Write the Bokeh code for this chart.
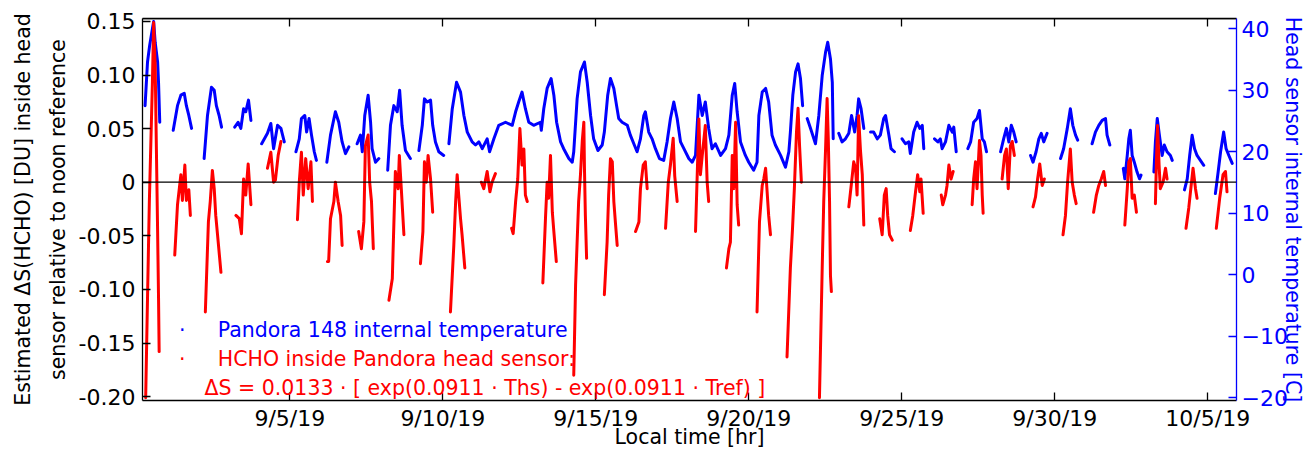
import numpy as np
from bokeh.plotting import figure
from bokeh.models import Range1d, LinearAxis, FixedTicker, Span, Label
from bokeh.embed import file_html
from bokeh.resources import INLINE

# ---------------- data (time = days since 31 Aug 2019 00:00, i.e. day-of-September) -------------
x_tick_days = [5, 10, 15, 20, 25, 30, 35]
x_tick_labels = ["9/5/19", "9/10/19", "9/15/19", "9/20/19", "9/25/19", "9/30/19", "10/5/19"]
left_ticks = [-0.2, -0.15, -0.1, -0.05, 0.0, 0.05, 0.1, 0.15]
left_tick_labels = ["-0.20", "-0.15", "-0.10", "-0.05", "0", "0.05", "0.10", "0.15"]
right_ticks = [-20, -10, 0, 10, 20, 30, 40]

# Pandora 148 internal temperature [C], one list per continuous record
temp_time = [
    [0.27, 0.35, 0.42, 0.51, 0.55, 0.60, 0.68, 0.71, 0.75],
    [1.19, 1.33, 1.44, 1.55, 1.62, 1.70, 1.79],
    [2.20, 2.31, 2.44, 2.53, 2.60, 2.69, 2.77],
    [3.20, 3.31, 3.40, 3.49, 3.56, 3.65, 3.73],
    [4.08, 4.27, 4.38, 4.47, 4.60, 4.71, 4.82],
    [5.20, 5.31, 5.38, 5.49, 5.55, 5.63, 5.71, 5.80, 5.87],
    [6.21, 6.33, 6.49, 6.60, 6.71, 6.82, 6.93],
    [7.20, 7.31, 7.37, 7.45, 7.56, 7.64, 7.69, 7.80, 7.91],
    [8.20, 8.29, 8.40, 8.51, 8.59, 8.67, 8.78, 8.94],
    [9.22, 9.33, 9.40, 9.49, 9.60, 9.67, 9.76, 9.87, 10.03],
    [10.20, 10.31, 10.45, 10.58, 10.69, 10.80, 10.96, 11.07, 11.18, 11.29, 11.45, 11.53,
     11.67, 11.83, 12.05, 12.27, 12.38, 12.48, 12.59, 12.70, 12.81, 12.97, 13.19, 13.22,
     13.30, 13.41, 13.54, 13.63, 13.72, 13.85, 13.95, 14.12, 14.23, 14.28, 14.39, 14.50,
     14.63, 14.72, 14.83, 14.93, 15.07, 15.21, 15.28, 15.39, 15.48, 15.59, 15.68, 15.75,
     15.86, 16.03, 16.13, 16.26, 16.35, 16.46, 16.57, 16.62, 16.73, 16.84, 16.95, 17.08,
     17.22, 17.33, 17.44, 17.55, 17.66, 17.77, 17.88, 18.04, 18.15, 18.26, 18.37, 18.48,
     18.58, 18.69, 18.80, 18.91, 19.08, 19.24, 19.35, 19.46, 19.54, 19.62, 19.73, 19.89,
     20.00, 20.16, 20.27, 20.33, 20.44, 20.55, 20.65, 20.76, 20.87, 21.04, 21.20, 21.31,
     21.36, 21.44, 21.53, 21.61, 21.69, 21.76],
    [21.91, 22.02, 22.18, 22.29, 22.40, 22.51, 22.58, 22.67, 22.73, 22.76],
    [22.94, 23.05, 23.16, 23.27, 23.36, 23.46, 23.54, 23.59, 23.67, 23.76],
    [23.98, 24.08, 24.20, 24.30, 24.41, 24.47, 24.58, 24.65, 24.76],
    [25.01, 25.12, 25.23, 25.28, 25.39, 25.50, 25.59, 25.67, 25.72],
    [26.07, 26.18, 26.26, 26.32, 26.43, 26.54, 26.65, 26.70, 26.78],
    [27.16, 27.25, 27.35, 27.46, 27.54, 27.63, 27.70, 27.77],
    [28.23, 28.33, 28.42, 28.50, 28.58, 28.66, 28.74],
    [29.21, 29.29, 29.39, 29.48, 29.56, 29.64, 29.75],
    [30.19, 30.29, 30.41, 30.51, 30.59, 30.68, 30.75],
    [31.22, 31.33, 31.44, 31.55, 31.66, 31.71, 31.80],
    [32.24, 32.29, 32.37, 32.42, 32.47, 32.53, 32.60, 32.69, 32.77, 32.82],
    [33.24, 33.29, 33.35, 33.42, 33.51, 33.58, 33.67, 33.78, 33.84],
    [34.24, 34.33, 34.41, 34.49, 34.57, 34.65, 34.76, 34.87],
    [35.25, 35.34, 35.42, 35.52, 35.60, 35.69, 35.80],
]
temp_value = [
    [27.5, 34.6, 37.3, 40.0, 41.2, 37.8, 34.6, 31.3, 24.8],
    [23.5, 27.5, 29.2, 29.5, 27.5, 25.9, 23.8],
    [18.9, 25.9, 30.5, 30.0, 27.5, 25.9, 24.0],
    [24.0, 24.8, 23.8, 27.0, 26.5, 28.4, 25.1],
    [21.3, 23.0, 24.6, 20.5, 24.3, 23.8, 21.6],
    [20.0, 22.1, 25.4, 25.9, 23.2, 25.4, 22.7, 20.0, 18.6],
    [18.3, 22.7, 26.5, 24.8, 21.6, 19.7, 20.8],
    [21.3, 22.7, 20.0, 25.9, 29.2, 24.8, 20.5, 18.3, 18.9],
    [17.0, 24.3, 27.5, 26.5, 30.0, 24.3, 20.2, 18.9],
    [20.2, 24.3, 28.6, 28.1, 28.4, 24.3, 21.6, 20.0, 19.4],
    [21.3, 27.0, 31.3, 29.7, 25.9, 23.2, 21.6, 21.1, 21.6, 20.5, 22.1, 20.0,
     22.1, 24.3, 24.8, 24.3, 26.5, 28.1, 29.7, 27.0, 24.8, 24.3, 24.8, 23.5,
     27.0, 30.3, 31.9, 29.2, 24.8, 21.6, 20.5, 18.9, 18.3, 20.0, 28.6, 33.0,
     34.6, 31.3, 25.9, 22.1, 20.2, 21.1, 23.2, 29.2, 31.9, 30.3, 27.5, 25.4,
     24.8, 24.3, 22.7, 21.1, 20.0, 22.1, 25.9, 26.5, 23.2, 22.1, 20.5, 18.9,
     18.6, 21.6, 25.4, 28.1, 25.4, 21.6, 20.5, 18.9, 18.3, 19.4, 29.2, 25.9,
     28.1, 23.8, 20.5, 21.3, 19.4, 20.5, 22.7, 29.2, 31.1, 26.5, 21.6, 19.4,
     18.3, 17.0, 18.3, 25.9, 29.7, 30.3, 28.1, 22.7, 21.1, 19.4, 17.5, 20.0,
     23.2, 29.2, 33.0, 34.3, 31.9, 27.5],
    [25.4, 23.8, 21.3, 25.9, 32.4, 36.2, 37.8, 35.1, 31.3, 22.1],
    [23.0, 21.6, 22.1, 23.0, 25.9, 23.2, 25.9, 28.6, 27.0, 23.8],
    [23.2, 23.2, 22.1, 22.7, 25.4, 25.9, 22.7, 20.5, 20.0],
    [22.1, 21.3, 21.6, 19.7, 23.2, 24.8, 23.8, 24.3, 20.5],
    [22.1, 21.6, 22.1, 20.5, 21.6, 24.3, 23.2, 24.0, 20.0],
    [20.5, 21.6, 24.8, 25.4, 26.7, 22.1, 21.6, 20.0],
    [20.0, 22.1, 23.8, 21.6, 24.3, 23.2, 21.6],
    [19.4, 18.3, 20.0, 22.1, 23.0, 21.6, 23.0],
    [18.9, 20.5, 23.8, 27.0, 24.3, 22.7, 21.9],
    [21.3, 23.2, 24.3, 25.1, 25.4, 22.7, 21.1],
    [17.3, 15.6, 19.4, 22.1, 23.5, 19.4, 18.3, 16.7, 15.6, 16.2],
    [16.7, 21.6, 25.4, 22.7, 19.4, 21.1, 20.0, 19.4, 18.6],
    [13.8, 15.6, 19.4, 22.7, 20.5, 19.4, 18.6, 17.8],
    [13.2, 16.7, 20.0, 23.2, 20.5, 19.4, 18.1],
]

# Estimated dS(HCHO) [DU] inside the head sensor, one list per day
hcho_time = [
    [0.29, 0.35, 0.41, 0.46, 0.51, 0.55, 0.60, 0.64, 0.68, 0.71, 0.73],
    [1.24, 1.33, 1.44, 1.49, 1.57, 1.62, 1.70, 1.75],
    [2.24, 2.34, 2.40, 2.47, 2.53, 2.58, 2.67, 2.75],
    [3.24, 3.35, 3.42, 3.49, 3.56, 3.64, 3.73],
    [4.27, 4.38, 4.47, 4.53, 4.62, 4.71],
    [5.25, 5.31, 5.38, 5.44, 5.52, 5.60, 5.69, 5.74],
    [6.23, 6.27, 6.33, 6.44, 6.49, 6.58, 6.66, 6.71],
    [7.25, 7.34, 7.42, 7.47, 7.56, 7.61, 7.67, 7.73],
    [8.24, 8.35, 8.40, 8.45, 8.54, 8.58, 8.65, 8.73],
    [9.27, 9.35, 9.40, 9.46, 9.52, 9.60, 9.67],
    [10.25, 10.36, 10.42, 10.47, 10.52, 10.58, 10.63, 10.72],
    [11.26, 11.34, 11.45, 11.54, 11.61, 11.72],
    [12.25, 12.30, 12.38, 12.45, 12.52, 12.59, 12.65, 12.70, 12.76],
    [13.27, 13.36, 13.41, 13.46, 13.52, 13.58, 13.63, 13.71],
    [14.28, 14.34, 14.39, 14.44, 14.50, 14.56, 14.61, 14.63, 14.66, 14.70],
    [15.28, 15.37, 15.42, 15.48, 15.54, 15.59, 15.64, 15.70],
    [16.30, 16.41, 16.46, 16.55, 16.62, 16.68],
    [17.28, 17.37, 17.44, 17.53, 17.58, 17.66],
    [18.26, 18.37, 18.42, 18.48, 18.58, 18.64, 18.69],
    [19.27, 19.35, 19.40, 19.46, 19.51, 19.57, 19.62, 19.67],
    [20.27, 20.35, 20.44, 20.49, 20.55, 20.60, 20.65, 20.71],
    [21.25, 21.36, 21.43, 21.49, 21.56, 21.61, 21.66, 21.72],
    [22.31, 22.40, 22.45, 22.51, 22.56, 22.60, 22.64, 22.67, 22.70],
    [23.27, 23.36, 23.43, 23.49, 23.54, 23.59, 23.65, 23.71, 23.76],
    [24.28, 24.36, 24.43, 24.49, 24.54, 24.60, 24.69],
    [25.28, 25.36, 25.45, 25.52, 25.59, 25.63, 25.70],
    [26.29, 26.34, 26.43, 26.48, 26.54, 26.61, 26.68],
    [27.30, 27.35, 27.41, 27.46, 27.54, 27.59, 27.63, 27.66],
    [28.28, 28.36, 28.42, 28.48, 28.55, 28.61, 28.68],
    [29.29, 29.37, 29.44, 29.51, 29.59, 29.66],
    [30.27, 30.35, 30.42, 30.51, 30.57, 30.64, 30.70],
    [31.27, 31.36, 31.44, 31.52, 31.60, 31.66],
    [32.29, 32.37, 32.42, 32.47, 32.53, 32.60, 32.67],
    [33.29, 33.32, 33.36, 33.41, 33.45, 33.54, 33.62, 33.67],
    [34.29, 34.38, 34.47, 34.52, 34.60, 34.65],
    [35.28, 35.39, 35.50, 35.58, 35.63],
]
hcho_value = [
    [-0.201, -0.108, -0.018, 0.038, 0.093, 0.149, 0.109, 0.031, -0.046, -0.108, -0.158],
    [-0.068, -0.021, 0.007, -0.017, 0.016, -0.017, -0.007, -0.031],
    [-0.121, -0.037, -0.018, 0.011, -0.006, -0.031, -0.059, -0.084],
    [-0.031, -0.034, -0.048, 0.003, -0.012, 0.017, -0.021],
    [0.013, 0.028, 0.000, 0.002, 0.025, 0.038],
    [-0.035, 0.000, 0.028, -0.012, 0.022, -0.006, 0.019, -0.018],
    [-0.074, -0.074, -0.034, -0.018, 0.000, -0.018, -0.031, -0.059],
    [-0.046, -0.062, -0.037, 0.034, 0.044, 0.000, -0.018, -0.062],
    [-0.110, -0.090, -0.040, 0.010, -0.006, 0.025, -0.009, -0.049],
    [-0.076, -0.046, 0.019, 0.000, 0.025, 0.003, -0.028],
    [-0.121, -0.059, -0.018, 0.007, -0.012, -0.034, -0.049, -0.080],
    [0.000, -0.006, 0.010, -0.009, 0.000, 0.008],
    [-0.043, -0.048, -0.018, 0.003, 0.050, 0.016, 0.031, -0.012, -0.018],
    [-0.094, -0.031, 0.000, -0.015, 0.025, -0.028, -0.046, -0.074],
    [-0.180, -0.096, -0.056, -0.018, 0.007, 0.039, 0.056, 0.013, -0.031, -0.071],
    [-0.105, -0.056, -0.012, 0.022, 0.019, -0.018, -0.037, -0.059],
    [-0.046, -0.037, -0.006, 0.016, 0.019, -0.006],
    [-0.043, 0.000, 0.016, 0.041, 0.006, -0.018],
    [-0.046, 0.059, 0.007, 0.025, 0.053, 0.000, -0.018],
    [-0.080, -0.062, -0.056, 0.025, -0.006, 0.056, -0.021, -0.040],
    [-0.121, -0.037, -0.003, 0.003, 0.013, -0.009, -0.031, -0.049],
    [-0.163, -0.080, -0.043, -0.006, 0.047, 0.069, 0.034, 0.000],
    [-0.201, -0.080, -0.018, 0.031, 0.078, 0.039, -0.018, -0.087, -0.102],
    [-0.023, 0.000, 0.019, 0.013, -0.012, 0.062, 0.030, 0.007, -0.040],
    [-0.034, -0.049, -0.012, -0.006, -0.031, -0.049, -0.054],
    [-0.045, -0.031, -0.009, 0.007, -0.009, 0.003, -0.029],
    [-0.012, -0.021, -0.012, -0.003, 0.016, 0.003, 0.010],
    [-0.021, 0.003, 0.019, -0.006, 0.039, 0.025, -0.012, -0.029],
    [0.003, 0.025, 0.031, -0.006, 0.034, 0.038, 0.025],
    [-0.023, -0.014, 0.003, 0.017, -0.003, 0.003],
    [-0.049, -0.031, 0.000, 0.031, 0.000, -0.012, -0.020],
    [-0.028, -0.012, -0.003, 0.003, 0.010, -0.003],
    [-0.040, -0.006, 0.019, 0.022, -0.015, -0.012, -0.028],
    [-0.020, 0.016, 0.053, 0.016, -0.006, 0.000, 0.013, 0.003],
    [-0.043, -0.024, 0.000, 0.013, -0.006, -0.015],
    [-0.043, -0.015, 0.007, 0.010, -0.009],
]


def joined(segments):
    out = []
    for i, seg in enumerate(segments):
        if i:
            out.append(np.nan)
        out.extend(seg)
    return np.array(out, dtype=float)


FONT = "DejaVu Sans"
BLUE = "#0000FF"
RED = "#FF0000"
TICK_FS = "22px"
TXT_FS = "20.5px"
Y_MIN, Y_MAX = -0.2036, 0.1527

p = figure(width=1315, height=451, output_backend="svg", toolbar_location=None,
           x_range=Range1d(0.186, 35.94), y_range=Range1d(Y_MIN, Y_MAX),
           min_border_left=142, min_border_right=79, min_border_top=18, min_border_bottom=10,
           background_fill_color="white", border_fill_color="white")
p.outline_line_color = None
p.xgrid.grid_line_color = None
p.ygrid.grid_line_color = None
p.extra_y_ranges = {"temp": Range1d(-20.45, 41.67)}


def style(ax, color="black"):
    ax.major_tick_in = 8
    ax.major_tick_out = 0
    ax.minor_tick_in = 0
    ax.minor_tick_out = 0
    ax.axis_line_color = color
    ax.major_tick_line_color = color
    ax.axis_line_width = 1.3
    ax.major_tick_line_width = 1.3
    ax.major_label_text_color = color
    ax.major_label_text_font = FONT
    ax.major_label_text_font_size = TICK_FS
    ax.axis_label_text_color = color
    ax.axis_label_text_font = FONT
    ax.axis_label_text_font_size = TXT_FS
    ax.axis_label_text_font_style = "normal"


# left axis
ly = p.yaxis[0]
style(ly)
ly.ticker = FixedTicker(ticks=left_ticks)
ly.major_label_overrides = {v: s for v, s in zip(left_ticks, left_tick_labels)}
ly.major_label_standoff = 7
ly.axis_label = "Estimated \u0394S(HCHO) [DU] inside head\nsensor relative to noon reference"
ly.axis_label_standoff = 6
ly.axis_label_text_line_height = 1.45

# bottom axis
bx = p.xaxis[0]
style(bx)
bx.ticker = FixedTicker(ticks=x_tick_days)
bx.major_label_overrides = {v: s for v, s in zip(x_tick_days, x_tick_labels)}
bx.major_label_standoff = 5
bx.axis_label = "Local time [hr]"
bx.axis_label_standoff = -9

# top axis (ticks only)
tx = LinearAxis(ticker=FixedTicker(ticks=x_tick_days))
style(tx)
tx.major_label_overrides = {v: "" for v in x_tick_days}
tx.major_label_standoff = 0
p.add_layout(tx, "above")

# right axis (temperature)
ry = LinearAxis(y_range_name="temp", ticker=FixedTicker(ticks=right_ticks))
style(ry, BLUE)
ry.major_label_standoff = 5
ry.axis_label = "Head sensor internal temperature [C]"
ry.axis_label_standoff = -10
p.add_layout(ry, "right")

# frame top line and zero line
p.add_layout(Span(location=Y_MAX, dimension="width", line_color="black", line_width=1.3))
p.add_layout(Span(location=0, dimension="width", line_color="black", line_width=1.3))

# series
p.line(joined(temp_time), joined(temp_value), y_range_name="temp",
       line_color=BLUE, line_width=3, line_join="round", line_cap="round")
p.line(joined(hcho_time), joined(hcho_value),
       line_color=RED, line_width=3, line_join="round", line_cap="round")

# legend (as text)
legend_items = [
    (1.484, 2.647, -0.1378, "Pandora 148 internal temperature", BLUE, True),
    (1.484, 2.647, -0.1648, "HCHO inside Pandora head sensor:", RED, True),
    (None, 2.212, -0.1921,
     "\u0394S = 0.0133 \u00b7  [ exp(0.0911 \u00b7 Ths) - exp(0.0911 \u00b7 Tref) ]", RED, False),
]
for dot_x, tx_x, y, txt, col, dot in legend_items:
    if dot:
        p.add_layout(Label(x=dot_x, y=y, text="\u00b7", text_color=col, text_font=FONT,
                           text_font_size=TXT_FS, text_align="center", text_baseline="alphabetic"))
    p.add_layout(Label(x=tx_x, y=y, text=txt, text_color=col, text_font=FONT,
                       text_font_size=TXT_FS, text_align="left", text_baseline="alphabetic"))

open("out.html", "w").write(file_html(p, INLINE))
